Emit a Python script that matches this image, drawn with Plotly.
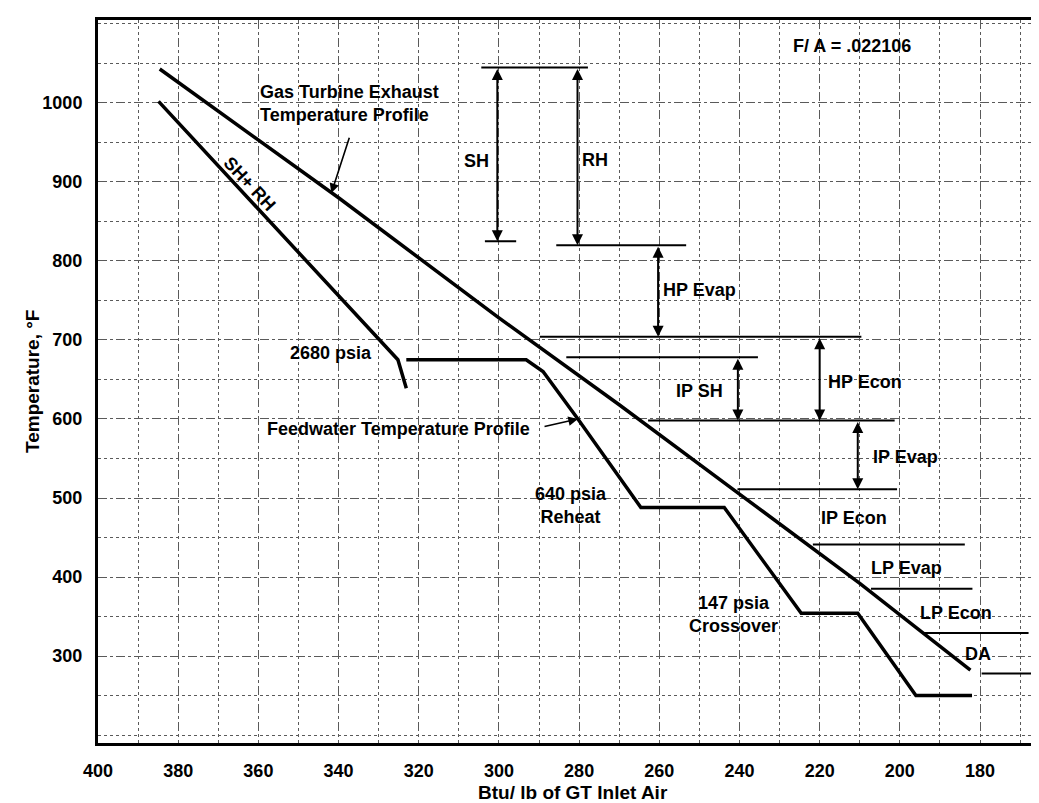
import plotly.graph_objects as go

# ---------------- data ----------------
exhaust_x = [384.6, 340.0, 300.0, 270.0, 240.0, 210.0, 182.4]
exhaust_t = [1043, 880, 728, 618, 505, 392, 282]

shrh_x = [384.9, 340.1, 325.2, 323.1]
shrh_t = [1002, 757, 675, 639]

feed_x = [323.1, 293.2, 289.0, 280.3, 264.6, 243.8, 224.6, 210.5, 196.0, 182.0]
feed_t = [675, 675, 660, 600, 488, 488, 354, 354, 250, 250]

# horizontal duty levels (temperature, from-x, to-x)
level_t = [1045, 825, 820, 704, 678, 598, 511, 441, 385, 329, 278]
level_x0 = [304.4, 303.5, 285.7, 289.8, 283.2, 262.8, 240.5, 221.7, 207.2, 194.1, 179.6]
level_x1 = [277.8, 295.7, 253.3, 209.6, 235.4, 201.3, 200.7, 183.8, 181.9, 167.9, 163.3]

# double-headed duty arrows (x, top temp, bottom temp)
duty_x = [300.4, 280.4, 260.3, 240.4, 220.0, 210.5]
duty_top = [1045, 1045, 820, 678, 704, 598]
duty_bot = [825, 820, 704, 598, 598, 511]

# labels
label_text = ["SH", "RH", "HP Evap", "IP SH", "HP Econ", "IP Evap", "IP Econ",
              "LP Evap", "LP Econ", "DA", "F/ A = .022106",
              "2680 psia", "640 psia<br>Reheat", "147 psia<br>Crossover",
              "Gas Turbine Exhaust<br>Temperature Profile",
              "Feedwater Temperature Profile"]
label_x = [305.7, 276.0, 250.0, 250.0, 208.8, 198.5, 211.4,
           198.3, 186.1, 180.5, 212.0,
           341.8, 282.0, 241.5, 360.0, 325.0]
label_t = [926, 928, 763, 636, 647, 552, 475,
           411, 355, 302, 1072,
           683, 490, 352, 999, 587]

x_ticks = [400, 380, 360, 340, 320, 300, 280, 260, 240, 220, 200, 180]
y_ticks = [300, 400, 500, 600, 700, 800, 900, 1000]

FONT = "Liberation Sans, Arial, sans-serif"

fig = go.Figure()

curve_style = dict(color="black", width=3.5)
fig.add_trace(go.Scatter(x=exhaust_x, y=exhaust_t, mode="lines", line=curve_style,
                         hoverinfo="skip", showlegend=False))
fig.add_trace(go.Scatter(x=shrh_x, y=shrh_t, mode="lines", line=curve_style,
                         hoverinfo="skip", showlegend=False))
fig.add_trace(go.Scatter(x=feed_x, y=feed_t, mode="lines", line=curve_style,
                         hoverinfo="skip", showlegend=False))

for t, a, b in zip(level_t, level_x0, level_x1):
    fig.add_trace(go.Scatter(x=[a, b], y=[t, t], mode="lines",
                             line=dict(color="black", width=2),
                             hoverinfo="skip", showlegend=False))

annotations = []
for x, top, bot in zip(duty_x, duty_top, duty_bot):
    annotations.append(dict(x=x, y=bot, ax=x, ay=top, xref="x", yref="y",
                            axref="x", ayref="y", text="", showarrow=True,
                            arrowhead=2, arrowside="end+start", arrowsize=1.1,
                            arrowwidth=2, arrowcolor="black", standoff=0,
                            startstandoff=0))

for txt, x, t in zip(label_text, label_x, label_t):
    is_gas = txt.startswith("Gas")
    annotations.append(dict(x=x, y=t, xref="x", yref="y", text=txt,
                            showarrow=False,
                            xanchor="left" if is_gas else "center",
                            yanchor="middle",
                            align="left" if is_gas else "center",
                            font=dict(family=FONT, size=18, color="black",
                                      weight="bold")))

# SH+RH rotated label
annotations.append(dict(x=362.2, y=897, xref="x", yref="y", text="SH+ RH",
                        showarrow=False, textangle=47,
                        font=dict(family=FONT, size=18, color="black", weight="bold")))

# pointer arrows for profile labels
annotations.append(dict(x=341.8, y=886, ax=337.2, ay=958, xref="x", yref="y",
                        axref="x", ayref="y", text="", showarrow=True,
                        arrowhead=2, arrowsize=1.2, arrowwidth=1.6,
                        arrowcolor="black", standoff=0))
annotations.append(dict(x=280.3, y=600, ax=289.0, ay=590, xref="x", yref="y",
                        axref="x", ayref="y", text="", showarrow=True,
                        arrowhead=2, arrowsize=1.2, arrowwidth=1.6,
                        arrowcolor="black", standoff=0))

# axis titles
annotations.append(dict(x=-0.069, y=0.5, xref="paper", yref="paper",
                        xanchor="center", yanchor="middle",
                        text="Temperature, °F", textangle=-90, showarrow=False,
                        font=dict(family=FONT, size=19, color="black", weight="bold")))
annotations.append(dict(x=0.5, y=-0.068, xref="paper", yref="paper",
                        xanchor="center", yanchor="middle",
                        text="Btu/ lb of GT Inlet Air", showarrow=False,
                        font=dict(family=FONT, size=19, color="black", weight="bold")))

grid_color = "#5a5a5a"
tick_font = dict(family=FONT, size=18, color="black", weight="bold")
fig.update_layout(
    width=1039, height=803,
    margin=dict(l=90, r=0, t=12, b=68),
    paper_bgcolor="white", plot_bgcolor="white",
    annotations=annotations,
    showlegend=False,
    xaxis=dict(range=[400, 163.3], tickvals=x_ticks,
               ticktext=[str(v) for v in x_ticks],
               showgrid=True, gridcolor=grid_color, gridwidth=1, griddash="dash",
               minor=dict(dtick=10, tick0=0, showgrid=True, gridcolor=grid_color,
                          gridwidth=1, griddash="dot"),
               showline=True, linecolor="black", linewidth=3, mirror=True,
               ticks="", ticklabelstandoff=9, zeroline=False,
               tickfont=tick_font),
    yaxis=dict(range=[189.9, 1105], tickvals=y_ticks,
               ticktext=[str(v) for v in y_ticks],
               showgrid=True, gridcolor=grid_color, gridwidth=1, griddash="dash",
               minor=dict(dtick=50, tick0=0, showgrid=True, gridcolor=grid_color,
                          gridwidth=1, griddash="dot"),
               showline=True, linecolor="black", linewidth=3, mirror=False,
               ticks="", ticklabelstandoff=9, zeroline=False,
               tickfont=tick_font),
)

fig.write_html("out.html")
